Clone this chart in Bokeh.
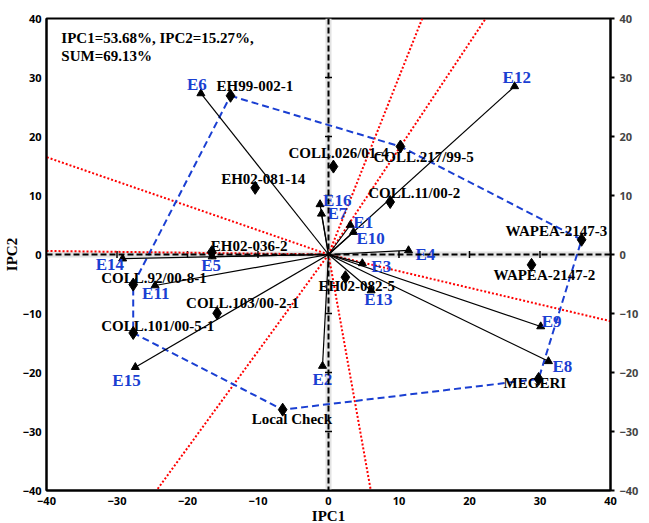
import math
from bokeh.plotting import figure
from bokeh.models import LinearAxis, FixedTicker, Range1d, ColumnDataSource, Label, Span
from bokeh.core.properties import value
from bokeh.embed import file_html
from bokeh.resources import INLINE

# ---------------- data ----------------
genotypes = ["EH99-002-1", "COLL.217/99-5", "COLL.026/01-4", "EH02-081-14", "COLL.11/00-2",
             "WAPEA-2147-3", "WAPEA-2147-2", "EH02-036-2", "EH02-082-5", "COLL.92/00-8-1",
             "COLL.103/00-2-1", "COLL.101/00-5-1", "MEGERI", "Local Check"]
gen_x = [-13.9, 10.2, 0.7, -10.4, 8.75, 35.9, 28.8, -16.55, 2.4, -27.7, -15.8, -27.7, 29.8, -6.5]
gen_y = [26.9, 18.3, 14.9, 11.3, 8.9, 2.5, -1.75, 0.4, -3.85, -5.1, -9.95, -13.3, -21.1, -26.3]

envs = ["E1", "E2", "E3", "E4", "E5", "E6", "E7", "E8",
        "E9", "E10", "E11", "E12", "E13", "E14", "E15", "E16"]
env_x = [3.1, -0.85, 4.8, 11.35, -16.5, -18.1, -1.0, 31.2, 30.1, 3.55, -24.6, 26.4, 6.05, -29.2, -27.4, -1.2]
env_y = [5.0, -18.9, -1.5, 0.7, -0.35, 27.3, 6.9, -18.1, -12.2, 3.8, -5.25, 28.5, -6.1, -0.7, -19.1, 8.5]

hull_order = ["EH99-002-1", "COLL.217/99-5", "WAPEA-2147-3", "MEGERI", "Local Check",
              "COLL.101/00-5-1", "COLL.92/00-8-1", "EH99-002-1"]

ray_x = [-40, -40, 13.3, 22.3, 40, -24.4, 6.0]
ray_y = [16.5, 0.6, 40, 40, -11.3, -40, -40]

axis_ticks = [-40, -30, -20, -10, 0, 10, 20, 30, 40]
inner_ticks = [-30, -20, -10, 10, 20, 30]
pc_text = ["IPC1=53.68%, IPC2=15.27%,", "SUM=69.13%"]
x_title = "IPC1"
y_title = "IPC2"

# ---------------- label layout (screen-pixel offsets) ----------------
gen_dx = [-14, -27, -45, -34, -22, -76, -38, -1, -27, -32, -31, -32, -35, -31]
gen_dy = [-9.5, 10.5, -14, -9, -9, -8.5, 10, -6, 9, -7, -10, -7, 4, 9]
env_dx = [3, -10, 9, 7, -11, -14, 6, 4, 1, 3, -13, -12, -7, -27, -23, 3]
env_dy = [-3, 13, 3, 4.5, 9, -9, 0, 5, -5, 6, 8, -9, 9, 6, 13, -4]

BLUE = "#1a3fd2"
SERIF = value("Liberation Serif")
SANS = "Open Sans"

p = figure(x_range=Range1d(-40, 40), y_range=Range1d(-40, 40),
           frame_width=564, frame_height=472,
           output_backend="svg", toolbar_location=None,
           min_border_top=18, min_border_left=0, min_border_right=0, min_border_bottom=0,
           background_fill_color="white", border_fill_color="white")
p.grid.visible = False
p.outline_line_color = "black"
p.outline_line_width = 2

# main axes
for ax in (p.xaxis[0], p.yaxis[0]):
    ax.ticker = FixedTicker(ticks=axis_ticks)
    ax.major_tick_in = 0
    ax.major_tick_out = 0
    ax.minor_tick_line_color = None
    ax.axis_line_width = 2
    ax.axis_line_color = "black"
    ax.major_label_text_font = SANS
    ax.major_label_text_font_style = "bold"
    ax.major_label_text_font_size = "11px"
    ax.major_label_text_color = "black"
    ax.axis_label_text_font = "Liberation Serif"
    ax.axis_label_text_font_style = "bold"
    ax.axis_label_text_font_size = "15px"
    ax.axis_label_text_color = "black"
    ax.axis_label_standoff = 0
p.xaxis[0].axis_label = x_title
p.yaxis[0].axis_label = y_title
p.xaxis[0].major_label_standoff = 6
p.yaxis[0].major_label_standoff = 5

right = LinearAxis(ticker=FixedTicker(ticks=axis_ticks), major_tick_out=4, major_tick_in=0,
                   minor_tick_line_color=None, axis_line_width=2, major_tick_line_width=2,
                   major_label_standoff=5, major_label_text_font=SANS,
                   major_label_text_font_style="bold", major_label_text_font_size="11px")
p.add_layout(right, "right")

# light shadows of the zero axes
p.add_layout(Span(location=0, dimension="width", line_color="#e2e2e2", line_width=6, level="underlay"))
p.add_layout(Span(location=0, dimension="height", line_color="#e2e2e2", line_width=6, level="underlay"))

# zero axes (dashed, crossing at origin) with small tick marks
p.add_layout(Span(location=0, dimension="width", line_color="black", line_width=2,
                  line_dash="6 3", level="glyph"))
p.add_layout(Span(location=0, dimension="height", line_color="black", line_width=2,
                  line_dash="6 3", level="glyph"))
k = len(inner_ticks)
p.scatter(inner_ticks, [0] * k, marker="dash", size=7, angle=math.pi / 2,
          line_color="black", line_width=1.5)
p.scatter([0] * k, inner_ticks, marker="dash", size=7, line_color="black", line_width=1.5)

# red dotted rays
n = len(ray_x)
p.segment(x0=[0] * n, y0=[0] * n, x1=ray_x, y1=ray_y, line_color="red",
          line_width=2, line_dash="2 2")

# hull polygon
idx = [genotypes.index(g) for g in hull_order]
p.line([gen_x[i] for i in idx], [gen_y[i] for i in idx], line_color=BLUE,
       line_width=2, line_dash="7 4")

# environment vectors
m = len(envs)
p.segment(x0=[0] * m, y0=[0] * m, x1=env_x, y1=env_y, line_color="black", line_width=1.2)
p.scatter(env_x, env_y, marker="triangle", size=8, fill_color="black", line_color="black")

# genotype points
p.scatter(gen_x, gen_y, marker="diamond", size=13, fill_color="black", line_color="black")

gsrc = ColumnDataSource(dict(x=gen_x, y=gen_y, t=genotypes, dx=gen_dx, dy=gen_dy))
p.text(x="x", y="y", text="t", x_offset="dx", y_offset="dy", source=gsrc,
       text_font=SERIF, text_font_size="15px", text_font_style="bold",
       text_color="black", text_baseline="middle", text_align="left")

esrc = ColumnDataSource(dict(x=env_x, y=env_y, t=envs, dx=env_dx, dy=env_dy))
p.text(x="x", y="y", text="t", x_offset="dx", y_offset="dy", source=esrc,
       text_font=SERIF, text_font_size="17px", text_font_style="bold",
       text_color=BLUE, text_baseline="middle", text_align="left")

p.add_layout(Label(x=-37.9, y=36.7, text=pc_text[0], text_font="Liberation Serif",
                   text_font_style="bold", text_font_size="15px", text_baseline="middle",
                   text_color="black"))
p.add_layout(Label(x=-37.9, y=33.7, text=pc_text[1], text_font="Liberation Serif",
                   text_font_style="bold", text_font_size="15px", text_baseline="middle",
                   text_color="black"))

open("out.html", "w").write(file_html(p, INLINE))
